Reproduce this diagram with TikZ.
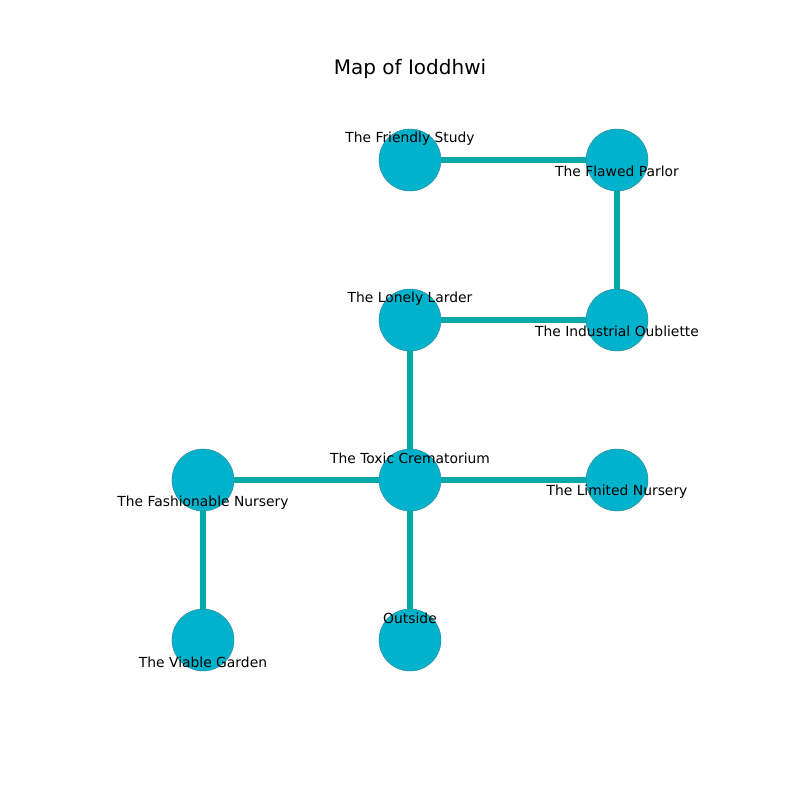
\documentclass[tikz,border=0pt]{standalone}
\usepackage{fontspec}
\setmainfont{DejaVu Sans}
\definecolor{nodefill}{HTML}{00B2CC}
\definecolor{edgecol}{HTML}{00AAAA}
\definecolor{nodeedge}{HTML}{2A7F8A}
\begin{document}
\begin{tikzpicture}[x=0.75pt,y=-0.75pt,
  room/.style={circle,fill=nodefill,draw=nodeedge,line width=0.3pt,minimum size=46.5pt,inner sep=0pt},
  lbl/.style={font=\fontsize{10.4}{12}\selectfont,inner sep=0pt},
  link/.style={draw=edgecol,line width=3.9pt}]
\useasboundingbox (0,0) rectangle (800,800);
\fill[white] (0,0) rectangle (800,800);
\node[font=\fontsize{15}{18}\selectfont] (title) at (410,69) {Map of Ioddhwi};
\coordinate (fs) at (410,160);
\coordinate (fp) at (617,160);
\coordinate (ll) at (410,320);
\coordinate (io) at (617,320);
\coordinate (tc) at (410,480);
\coordinate (fn) at (203,480);
\coordinate (ln) at (617,480);
\coordinate (vg) at (203,640);
\coordinate (ou) at (410,640);
\draw[link] (fs) -- (fp);
\draw[link] (fp) -- (io);
\draw[link] (ll) -- (io);
\draw[link] (ll) -- (tc);
\draw[link] (fn) -- (tc);
\draw[link] (tc) -- (ln);
\draw[link] (fn) -- (vg);
\draw[link] (tc) -- (ou);
\foreach \n in {fs,fp,ll,io,tc,fn,ln,vg,ou} \node[room] (\n c) at (\n) {};
\node[lbl] (fsl) at (410,138.5) {The Friendly Study};
\node[lbl] (fpl) at (617,171.5) {The Flawed Parlor};
\node[lbl] (lll) at (410,298.5) {The Lonely Larder};
\node[lbl] (iol) at (617,331.5) {The Industrial Oubliette};
\node[lbl] (tcl) at (410,458.5) {The Toxic Crematorium};
\node[lbl] (fnl) at (203,502.5) {The Fashionable Nursery};
\node[lbl] (lnl) at (617,491.5) {The Limited Nursery};
\node[lbl] (vgl) at (203,662.5) {The Viable Garden};
\node[lbl] (oul) at (410,618.5) {Outside};
\end{tikzpicture}
\end{document}
